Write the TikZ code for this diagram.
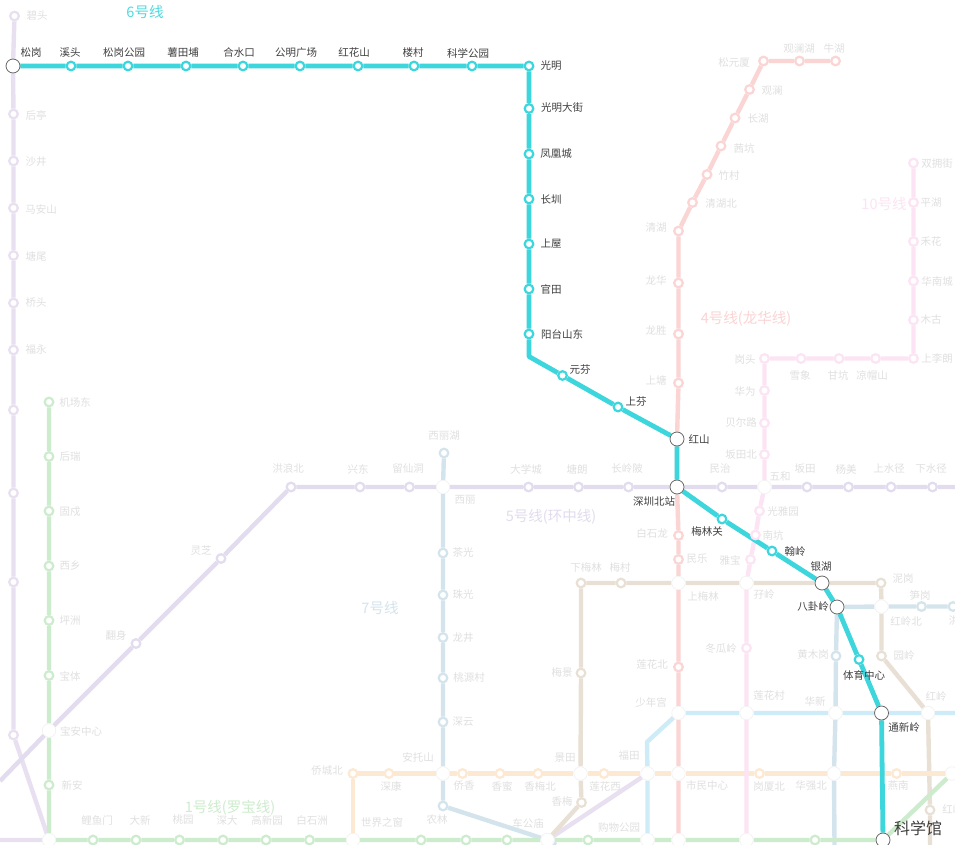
\documentclass[tikz,border=0pt]{standalone}
\usepackage{fontspec}
\setmainfont{Noto Sans CJK SC}
\usetikzlibrary{backgrounds}
\definecolor{colA}{HTML}{CDECCD}
\definecolor{colB}{HTML}{FDE8D2}
\definecolor{colC}{HTML}{CDECF8}
\definecolor{colD}{HTML}{FBD4D4}
\definecolor{colE}{HTML}{E2DCEE}
\definecolor{colF}{HTML}{3DD6DC}
\definecolor{colG}{HTML}{D4E4EC}
\definecolor{colH}{HTML}{E8E0D4}
\definecolor{colJ}{HTML}{FCE4F4}
\definecolor{colK}{HTML}{E8E0F0}
\definecolor{faint}{HTML}{E0E0E0}

\begin{document}
\begin{tikzpicture}[
    x=1pt, y=-1pt,
    stn/.style={circle, fill=white, draw=#1, line width=2.2pt, minimum size=8.6pt, inner sep=0pt},
    hub/.style={circle, fill=white, draw=white!94!black, line width=0.6pt, minimum size=13.5pt, inner sep=0pt},
    hubon/.style={circle, fill=white, draw=black!60, line width=0.8pt, minimum size=14pt, inner sep=0pt},
    lab/.style={font=\fontsize{10.5}{12}\selectfont, text=faint, inner sep=0pt},
    labon/.style={font=\fontsize{10.5}{12}\selectfont, text=black!75, inner sep=0pt},
    title/.style={font=\fontsize{14.5}{16}\selectfont, inner sep=0pt},
    track/.style={line width=#1, line join=round}, track/.default=4.4pt
]
\useasboundingbox (0,0) rectangle (955,845);

% Interchanges, the ones on line 6 first
\foreach \nm/\x/\y/\lx/\ly/\txt in {songgang/13/66/31/53/松岗, hongshan/677/439/699/439/红山, szbei/677/487/654/501/深圳北站,
    yinhu/822/583/821/567/银湖, bagua/837/607/813/606/八卦岭, tongxin/881.5/713/904/727/通新岭}
  {\node[hubon] (\nm) at (\x,\y) {}; \node[labon] (\nm-t) at (\lx,\ly) {\txt};}
\node[hubon] (kexue) at (883,840) {};
\node[labon, font=\fontsize{16}{18}\selectfont] (kexue-t) at (918,828) {科学馆};

\foreach \nm/\x/\y/\lx/\ly/\txt in {baoan/49/730.5/81/731/宝安中心, xili/443/487/465/500/西丽, antuo/443/773.5/418/757/安托山,
    sjzc/353/840/382/823/世界之窗, chegong/547.5/840/528/823/车公庙, wuhe/764.5/487/780/477/五和,
    shangml/678.5/583/703/596/上梅林, ziling/746.5/583/764/595/孖岭, hlbei/881.5/606.5/906/621/红岭北,
    shaonian/678.5/713/651/702/少年宫, lhcun/746.5/713/769/696/莲花村, huaxin/835.5/713/815/701/华新, hongling/928/713/936/696/红岭,
    jingtian/580.5/773.5/565/758/景田, futian/647.5/773.5/629/756/福田, shimin/678.5/773.5/707/785/市民中心,
    hqbei/834/773.5/811/786/华强北, gouwu/647.5/840/619/828/购物公园}
  {\node[hub] (\nm) at (\x,\y) {}; \node[lab] (\nm-t) at (\lx,\ly) {\txt};}
\foreach \nm/\x/\y in {qianhai/49/840, huizhan/678.5/840, futmz/746.5/840, hqnan/952/773.5}
  {\node[hub] (\nm) at (\x,\y) {};}

% Line 6
\foreach \nm/\x/\y/\lx/\ly/\txt in {xitou/71/66/70/53/溪头, sgpark/128/66/124/53/松岗公园, shutian/186/66/183/53/薯田埔,
    heshui/243/66/239/53/合水口, gmsq/300/66/296/53/公明广场, honghua/358/66/354/53/红花山, loucun/414/66/413/53/楼村,
    kxpark/472/66/468/53/科学公园, guangm/529/66/551/66/光明, gmdj/529/108.5/562/108/光明大街, fhc/529/154/556/154/凤凰城,
    changz/529/199/551/200/长圳, shangw/529/244/551/244/上屋, guant/529/289/551/289/官田, ytsd/529/334/562/334/阳台山东,
    yuanf/562.5/375.5/580/370/元芬, shangf/618/407/636/402/上芬, mlguan/722/519/707/531/梅林关, hanl/772/551/795/551/翰岭,
    tyzx/859/659.5/864/675.5/体育中心}
  {\node[stn=colF] (\nm) at (\x,\y) {}; \node[labon] (\nm-t) at (\lx,\ly) {\txt};}

% Line 4
\foreach \nm/\x/\y/\lx/\ly/\txt in {niuhu/835.5/61/834/49/牛湖, glhu/799.5/61/799/49/观澜湖, syuan/763.5/61/734/63/松元厦,
    guanl/749.5/89.5/772/91/观澜, changh/735/118/758/119/长湖, qiank/721/146/744/148/茜坑, zhuc/707/174.5/729/176/竹村,
    qhbei/692.5/202.5/721/204/清湖北, qinghu/678.5/231/656/228/清湖, longh/678.5/283/656/280/龙华, longs/678.5/334/656/331/龙胜,
    shangt/678.5/383/656/380/上塘, baisl/678.5/535.5/652/533/白石龙, minl/678.5/559.5/697/559/民乐, lhbei/678.5/667/652/664/莲花北}
  {\node[stn=colD] (\nm) at (\x,\y) {}; \node[lab] (\nm-t) at (\lx,\ly) {\txt};}

% Line 10
\foreach \nm/\x/\y/\lx/\ly/\txt in {shuangy/913.5/163/937/164/双拥街, pingh/913.5/202.5/931/203/平湖, heh/913.5/241.5/931/242/禾花,
    hncheng/913.5/281/937/282/华南城, mug/913.5/320/931/320/木古, shangl/913.5/358.5/937/359/上李朗, liangm/875.5/358.5/872/375/凉帽山,
    gank/839/358.5/838/375/甘坑, xuex/801/358.5/800/375/雪象, gangt/764.5/358.5/745/359/岗头, huaw/764.5/390.5/745/391/华为,
    beier/764.5/423/741/423/贝尔路, btbei/764.5/454.5/741/455/坂田北, gyyuan/759.5/511/783/512/光雅园, nank/755.5/535/773/535/南坑,
    yab/750.5/559.5/730/560/雅宝, donggl/746.5/648/721/649/冬瓜岭}
  {\node[stn=colJ] (\nm) at (\x,\y) {}; \node[lab] (\nm-t) at (\lx,\ly) {\txt};}

% Line 5
\foreach \nm/\x/\y/\lx/\ly/\txt in {fans/136/643.5/116/636/翻身, lingz/221/558.5/201/551/灵芝, hlb/291/487/288/469/洪浪北,
    xingd/360/487/358/469/兴东, lxd/409.5/487/408/469/留仙洞, dxc/528.5/487/526/469/大学城, tangl/578.5/487/577/469/塘朗,
    clp/628.5/487/627/469/长岭陂, minz/722/487/720/469/民治, bant/807/487/805/469/坂田, yangm/848.5/487/846/469/杨美,
    ssj/891/487/889/469/上水径, xsj/932.5/487/931/469/下水径}
  {\node[stn=colE] (\nm) at (\x,\y) {}; \node[lab] (\nm-t) at (\lx,\ly) {\txt};}

% Line 11
\foreach \nm/\x/\y/\lx/\ly/\txt in {bit/14.5/16/37/16/碧头, houting/13.5/114/36/115/后亭, shaj/13.5/161/36/162/沙井, maan/13.5/208/41/209/马安山,
    tangw/13.5/255.5/36/256/塘尾, qiaot/13.5/303/36/303/桥头, fuy/13.5/350/36/350/福永}
  {\node[stn=colK] (\nm) at (\x,\y) {}; \node[lab] (\nm-t) at (\lx,\ly) {\txt};}
\foreach \nm/\x/\y in {jcb/13.5/410, jc/13.5/493, bsh/13.5/582, bygd/13.5/735}
  {\node[stn=colK] (\nm) at (\x,\y) {};}

% Line 1
\foreach \nm/\x/\y/\lx/\ly/\txt in {jcd/49/402/75/402/机场东, hour/49/456.5/70/457/后瑞, gux/49/511/70/512/固戍, xix/49/566/70/566/西乡,
    pingz/49/620.5/70/621/坪洲, baot/49/675.5/70/676/宝体, xina/49/785/72/785/新安, liyu/93/840/97/820/鲤鱼门, daxin/136/840/140/820/大新,
    taoy/179.5/840/183/820/桃园, shend/223/840/227/820/深大, gxy/266/840/267/820/高新园, bsz/309.5/840/312/820/白石洲}
  {\node[stn=colA] (\nm) at (\x,\y) {}; \node[lab] (\nm-t) at (\lx,\ly) {\txt};}
\foreach \nm/\x/\y in {qiaocd/421/840, hqc/466/840, zhuzl/507/840, xiangm/588/840, gangx/815/840}
  {\node[stn=colA] (\nm) at (\x,\y) {};}

% Line 7
\foreach \nm/\x/\y/\lx/\ly/\txt in {xlhu/444/453/444/436/西丽湖, chag/443/553/463/553/茶光, zhug/443/595/463/595/珠光, longj/443/637.5/463/638/龙井,
    tyc/443/678/469/678/桃源村, shenn/443/722/463/722/深云, nonl/443/806/437/820/农林, hmg/836/656/813/655/黄木岗, sung/921.5/606.5/920/595/笋岗,
    honghu/953/606.5/959/621/洪湖}
  {\node[stn=colG] (\nm) at (\x,\y) {}; \node[lab] (\nm-t) at (\lx,\ly) {\txt};}

% Line 9
\foreach \nm/\x/\y/\lx/\ly/\txt in {xml/581/583/586/567/下梅林, meic/621/583/620/567/梅村, nig/881/583/903/579/泥岗, yuanl/881.5/656/904/655/园岭,
    hlnan/930/810/958/809/红岭南, meij/581/673/562/672/梅景, xmei/581.5/802.5/562/801/香梅}
  {\node[stn=colH] (\nm) at (\x,\y) {}; \node[lab] (\nm-t) at (\lx,\ly) {\txt};}

% Line 2
\foreach \nm/\x/\y/\lx/\ly/\txt in {qcb/353/773.5/327/771/侨城北, shenk/389/773.5/391/786/深康, qiaox/462.5/773.5/464/786/侨香, xmi/500/773.5/502/786/香蜜,
    xmb/538/773.5/540/786/香梅北, lhx/604/773.5/605/786/莲花西, gxb/759.5/773.5/769/786/岗厦北, yann/896.5/773.5/898/786/燕南}
  {\node[stn=colB] (\nm) at (\x,\y) {}; \node[lab] (\nm-t) at (\lx,\ly) {\txt};}

% Line names
\node[title, text=colF!90!white] (t6) at (145,12) {6号线};
\node[title, text=colD] (t4) at (746,319) {4号线(龙华线)};
\node[title, text=colJ] (t10) at (884,204) {10号线};
\node[title, text=colE] (t5) at (551,517) {5号线(环中线)};
\node[title, text=colG] (t7) at (380,607.5) {7号线};
\node[title, text=colA] (t1) at (230,808) {1号线(罗宝线)};

% Free ends and bends
\coordinate (e5l) at (0,781);
\coordinate (e5r) at (955,487);
\coordinate (e3r) at (955,713);
\coordinate (e11l) at (0,840);
\coordinate (e7b) at (834.5,845);
\coordinate (e7c) at (556,845);
\coordinate (e9b) at (930,845);
\coordinate (b3) at (647,742);
\coordinate (b6) at (529,356.5);

\begin{scope}[on background layer]
\fill[white] (0,0) rectangle (955,845);
\draw[track, colK] (bit) -- (songgang) -- (houting) -- (shaj) -- (maan) -- (tangw) -- (qiaot) -- (fuy) -- (jcb) -- (jc) -- (bsh) -- (bygd) -- (qianhai) -- (e11l);
\draw[track, colK] (chegong) -- (futian);
\draw[track, colE] (e5l) -- (baoan) -- (fans) -- (lingz) -- (hlb) -- (xingd) -- (lxd) -- (xili) -- (dxc) -- (tangl) -- (clp) -- (szbei) -- (minz) -- (wuhe) -- (bant) -- (yangm) -- (ssj) -- (xsj) -- (e5r);
\draw[track, colG] (xlhu) -- (xili) -- (chag) -- (zhug) -- (longj) -- (tyc) -- (shenn) -- (antuo) -- (nonl) -- (chegong) -- (e7c);
\draw[track, colG] (e7b) -- (hqbei) -- (huaxin) -- (hmg) -- (bagua) -- (hlbei) -- (sung) -- (honghu);
\draw[track, colH] (chegong) -- (xmei) -- (jingtian) -- (meij) -- (xml) -- (meic) -- (shangml) -- (ziling) -- (yinhu) -- (nig) -- (hlbei) -- (yuanl) -- (hongling) -- (hlnan) -- (e9b);
\draw[track, colB] (sjzc) -- (qcb) -- (shenk) -- (antuo) -- (qiaox) -- (xmi) -- (xmb) -- (jingtian) -- (lhx) -- (futian) -- (shimin) -- (gxb) -- (hqbei) -- (yann) -- (hqnan);
\draw[track, colC] (gouwu) -- (futian) -- (b3) -- (shaonian) -- (lhcun) -- (huaxin) -- (tongxin) -- (hongling) -- (e3r);
\draw[track, colD] (niuhu) -- (glhu) -- (syuan) -- (guanl) -- (changh) -- (qiank) -- (zhuc) -- (qhbei) -- (qinghu) -- (longh) -- (longs) -- (shangt) -- (hongshan) -- (szbei) -- (baisl) -- (minl) -- (shangml) -- (lhbei) -- (shaonian) -- (shimin) -- (huizhan);
\draw[track, colJ] (shuangy) -- (pingh) -- (heh) -- (hncheng) -- (mug) -- (shangl) -- (liangm) -- (gank) -- (xuex) -- (gangt) -- (huaw) -- (beier) -- (btbei) -- (wuhe) -- (gyyuan) -- (nank) -- (yab) -- (ziling) -- (donggl) -- (lhcun) -- (futmz);
\draw[track, colA] (jcd) -- (hour) -- (gux) -- (xix) -- (pingz) -- (baot) -- (baoan) -- (xina) -- (qianhai) -- (liyu) -- (daxin) -- (taoy) -- (shend) -- (gxy) -- (bsz) -- (sjzc) -- (qiaocd) -- (hqc) -- (zhuzl) -- (chegong) -- (xiangm) -- (gouwu) -- (huizhan) -- (futmz) -- (gangx) -- (kexue) -- (hqnan);
\draw[track=4.8pt, colF] (songgang) -- (xitou) -- (sgpark) -- (shutian) -- (heshui) -- (gmsq) -- (honghua) -- (loucun) -- (kxpark) -- (guangm) -- (gmdj) -- (fhc) -- (changz) -- (shangw) -- (guant) -- (ytsd) -- (b6) -- (yuanf) -- (shangf) -- (hongshan) -- (szbei) -- (mlguan) -- (hanl) -- (yinhu) -- (bagua) -- (tyzx) -- (tongxin) -- (kexue);
\end{scope}

\end{tikzpicture}
\end{document}
